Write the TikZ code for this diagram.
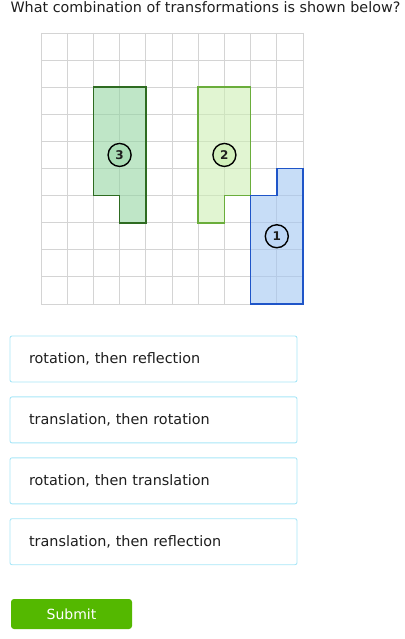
\documentclass[tikz,border=0pt]{standalone}
\usepackage{fontspec}
\setmainfont{DejaVu Sans}
\usetikzlibrary{positioning}
\definecolor{gridgray}{HTML}{D4D4D4}
\definecolor{darkgreen}{HTML}{2E6B21}
\definecolor{midgreen}{HTML}{6AAD3B}
\definecolor{darkblue}{HTML}{1F55C8}
\definecolor{fillthree}{RGB}{148,213,162}
\definecolor{filltwo}{RGB}{205,238,180}
\definecolor{fillone}{RGB}{162,198,242}
\definecolor{optborder}{HTML}{A8E6F7}
\definecolor{submitgreen}{HTML}{54B800}
\definecolor{textgray}{HTML}{1E1E1E}

\begin{document}
\begin{tikzpicture}[x=1pt,y=-1pt]
        \tikzstyle{every node}=[text=textgray]
        \tikzstyle{label}=[circle,draw=black,line width=1.4pt,minimum size=23pt,inner sep=0pt,font=\fontsize{12}{12}\selectfont\bfseries]
        \tikzstyle{option}=[draw=optborder,line width=0.9pt,rounded corners=2pt,minimum height=46pt,inner xsep=19pt,text width=249pt,align=left,font=\fontsize{14.4}{16}\selectfont]
        \useasboundingbox (0,0) rectangle (404,639);
        \node[anchor=west,font=\fontsize{14.35}{16}\selectfont] (title) at (7,7.5) {What combination of transformations is shown below?};
        \begin{scope}[shift={(41,33)},x=26.2pt,y=-27.1pt]
            \foreach \i in {0,...,10} {
                \draw[gridgray,line width=0.9pt] (\i,0) -- (\i,10);
                \draw[gridgray,line width=0.9pt] (0,\i) -- (10,\i);
            }
            \fill[fillthree,fill opacity=0.6] (2,2) -- (4,2) -- (4,7) -- (3,7) -- (3,6) -- (2,6) -- cycle;
            \fill[filltwo,fill opacity=0.6] (6,2) -- (8,2) -- (8,6) -- (7,6) -- (7,7) -- (6,7) -- cycle;
            \fill[fillone,fill opacity=0.6] (8,6) -- (9,6) -- (9,5) -- (10,5) -- (10,10) -- (8,10) -- cycle;
            \draw[darkgreen,line width=1.7pt] (2,2) -- (4,2) -- (4,7) -- (3,7) -- (3,6) -- (2,6) -- cycle;
            \draw[midgreen,line width=1.7pt] (6,2) -- (8,2) -- (8,6) -- (7,6) -- (7,7) -- (6,7) -- cycle;
            \draw[darkblue,line width=1.7pt] (8,6) -- (9,6) -- (9,5) -- (10,5) -- (10,10) -- (8,10) -- cycle;
            \node[label,fill=fillthree!80] (three) at (3,4.5) {3};
            \node[label,fill=filltwo!90] (two) at (7,4.5) {2};
            \node[label,fill=fillone!70] (one) at (9,7.5) {1};
        \end{scope}
        \node[option] (optA) at (153.5,359) {rotation, then reflection};
        \node[option,below=14pt of optA] (optB) {translation, then rotation};
        \node[option,below=14pt of optB] (optC) {rotation, then translation};
        \node[option,below=14pt of optC] (optD) {translation, then reflection};
        \node[fill=submitgreen,rounded corners=3pt,minimum width=121pt,minimum height=30pt,text=white,font=\fontsize{14}{16}\selectfont] (submit) at (71.5,614) {Submit};
    \end{tikzpicture}
\end{document}
